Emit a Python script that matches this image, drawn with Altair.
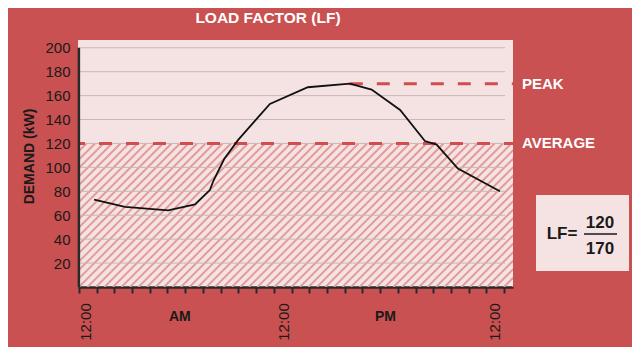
import altair as alt
import numpy as np
import pandas as pd

# ---- data ----
hours = [0.86, 2.6, 5.04, 6.55, 7.39, 7.6, 8.2, 8.99, 10.78, 12.92, 15.29, 16.52, 18.13, 19.53, 20.19, 21.39, 23.76]
demand = [73, 67, 64, 69, 81, 89, 107, 123, 153, 167, 170, 165, 148, 122, 119, 99, 80]
y_ticks = [20, 40, 60, 80, 100, 120, 140, 160, 180, 200]
x_tick_hours = list(range(25))
time_labels = ["12:00", "12:00", "12:00"]
time_label_pos = [0.4, 11.6, 23.5]
period_labels = ["AM", "PM"]
period_pos = [5.7, 17.3]
average_kw = 120
peak_kw = 170
peak_hour = 15.29

X_MIN, X_MAX = -0.05, 24.5
Y_MIN, Y_MAX = 0, 206.5
W, H = 435, 247

BG = "#C95151"
PANEL = "#F5E3E3"
DASH = "#D24E4E"
FONT = "Liberation Sans"
INK = "#1a1a1a"

xs = alt.Scale(domain=[X_MIN, X_MAX], nice=False, zero=False)
ys = alt.Scale(domain=[Y_MIN, Y_MAX], nice=False, zero=False)

X_AX = alt.Axis(values=x_tick_hours, labels=False, title=None, grid=False,
                domain=True, domainColor="#2a2a2a", domainWidth=2.5,
                ticks=True, tickColor="#2a2a2a", tickWidth=2, tickSize=6)
Y_AX = alt.Axis(values=y_ticks, title="DEMAND (kW)", grid=False, domain=False, ticks=False,
                labelFont=FONT, labelFontSize=15, labelColor=INK, labelPadding=8,
                titleFont=FONT, titleFontSize=14, titleFontWeight="bold", titleColor=INK,
                titlePadding=8, titleY=116)


def X(f):
    return alt.X(f, scale=xs, axis=X_AX, title=None)


def Y(f):
    return alt.Y(f, scale=ys, axis=Y_AX, title="DEMAND (kW)")


line_df = pd.DataFrame({"h": hours, "kw": demand})

# decorative hatch lines at 45 degrees under the average level
px_per_h = W / (X_MAX - X_MIN)
px_per_kw = H / (Y_MAX - Y_MIN)
hatch_h_px = average_kw * px_per_kw
offs = np.arange(-hatch_h_px, W + 10, 8.5)
hatch_df = pd.DataFrame({
    "h": X_MIN + offs / px_per_h,
    "h2": X_MIN + (offs + hatch_h_px) / px_per_h,
    "kw": 0.0,
    "kw2": float(average_kw),
})

grid_df = pd.DataFrame({"kw": y_ticks, "h": 0.0, "h2": 24.05})

hatch = alt.Chart(hatch_df).mark_rule(color="#E29A9A", strokeWidth=1.9, clip=True).encode(
    x=X("h:Q"), x2="h2:Q", y=Y("kw:Q"), y2="kw2:Q")

grid = alt.Chart(grid_df).mark_rule(color="#C9B7B7", strokeWidth=1).encode(
    x=X("h:Q"), x2="h2:Q", y=Y("kw:Q"))

avg_df = pd.DataFrame({"h": [X_MIN], "h2": [X_MAX], "kw": [average_kw]})
peak_df = pd.DataFrame({"h": [peak_hour], "h2": [X_MAX], "kw": [peak_kw]})

avg_rule = alt.Chart(avg_df).mark_rule(color=DASH, strokeWidth=3, strokeDash=[13, 14], strokeDashOffset=6).encode(
    x=X("h:Q"), x2="h2:Q", y=Y("kw:Q"))
peak_rule = alt.Chart(peak_df).mark_rule(color=DASH, strokeWidth=3, strokeDash=[13, 14]).encode(
    x=X("h:Q"), x2="h2:Q", y=Y("kw:Q"))

line = alt.Chart(line_df).mark_line(color="#111111", strokeWidth=1.8).encode(
    x=X("h:Q"), y=Y("kw:Q"))

yaxis_df = pd.DataFrame({"h": [0.0], "kw": [0.0], "kw2": [200.0]})
yaxis_line = alt.Chart(yaxis_df).mark_rule(color="#2a2a2a", strokeWidth=2.5).encode(
    x=X("h:Q"), y=Y("kw:Q"), y2="kw2:Q")

tl_df = pd.DataFrame({"h": time_label_pos, "t": time_labels})
time_text = alt.Chart(tl_df).mark_text(angle=270, align="center", baseline="middle",
                                       font=FONT, fontSize=15, color=INK).encode(
    x=X("h:Q"), y=alt.value(282), text="t:N")

pl_df = pd.DataFrame({"h": period_pos, "t": period_labels})
period_text = alt.Chart(pl_df).mark_text(align="center", baseline="middle", font=FONT,
                                         fontSize=14, fontWeight="bold", color=INK).encode(
    x=X("h:Q"), y=alt.value(277), text="t:N")

lvl_df = pd.DataFrame({"kw": [peak_kw, average_kw], "t": ["PEAK", "AVERAGE"]})
level_text = alt.Chart(lvl_df).mark_text(align="left", baseline="middle", font=FONT,
                                         fontSize=15, fontWeight="bold", color="white").encode(
    x=alt.value(444), y=Y("kw:Q"), text="t:N")

title_text = alt.Chart(pd.DataFrame({"t": ["LOAD FACTOR (LF)"]})).mark_text(
    align="center", baseline="middle", font=FONT, fontSize=15.5, fontWeight="bold", color="white"
).encode(x=alt.value(190), y=alt.value(-22), text="t:N")

box = alt.Chart(pd.DataFrame({"k": [1]})).mark_rect(fill=PANEL).encode(
    x=alt.value(458), x2=alt.value(551), y=alt.value(155), y2=alt.value(231))


def lf_txt(t, x, y):
    return alt.Chart(pd.DataFrame({"t": [t]})).mark_text(
        align="center", baseline="middle", font=FONT, fontSize=17, fontWeight="bold", color=INK
    ).encode(x=alt.value(x), y=alt.value(y), text="t:N")


lf1 = lf_txt("LF=", 484, 194)
lf2 = lf_txt("120", 522, 183)
lf3 = lf_txt("170", 522, 209)
frac = alt.Chart(pd.DataFrame({"k": [1]})).mark_rule(color=INK, strokeWidth=1.5).encode(
    x=alt.value(506), x2=alt.value(539), y=alt.value(194))

chart = alt.layer(
    hatch, grid, avg_rule, peak_rule, line, yaxis_line,
    time_text, period_text, level_text, title_text, box, lf1, lf2, lf3, frac
).properties(
    width=W, height=H, background=BG,
    autosize=alt.AutoSizeParams(type="none"),
    padding={"left": 70, "top": 32, "right": 119, "bottom": 60},
).configure_view(fill=PANEL, stroke=None)

chart.save("out.html", embed_options={"renderer": "svg", "actions": False})
